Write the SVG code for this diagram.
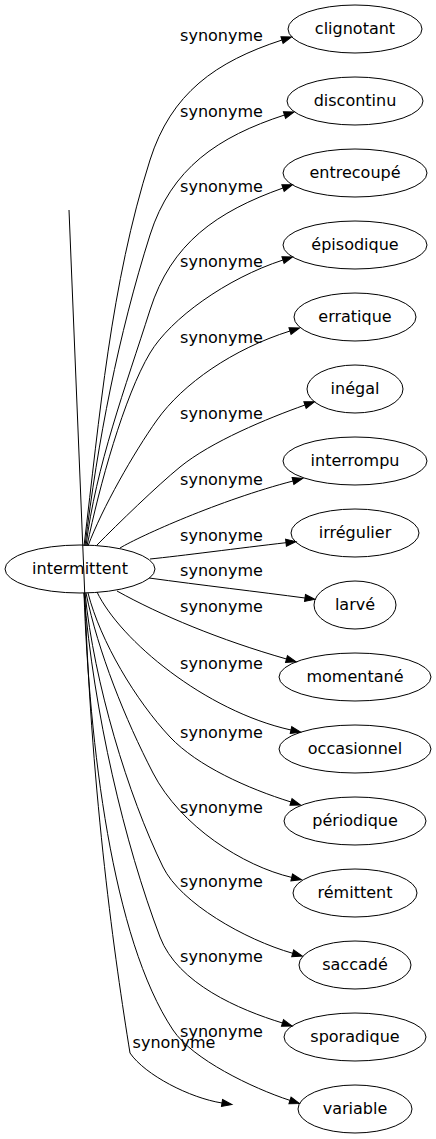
<svg xmlns="http://www.w3.org/2000/svg" width="436" height="1139" viewBox="0 0 436 1139">
<style>
text{font-family:"DejaVu Sans","Verdana",sans-serif;font-size:16px;fill:#000;text-anchor:middle}
ellipse{fill:none;stroke:#000;stroke-width:1}
.e path{fill:none;stroke:#000;stroke-width:1;marker-end:url(#arr)}
</style>
<defs>
<marker id="arr" markerUnits="userSpaceOnUse" markerWidth="11" markerHeight="8" refX="0" refY="3.5" orient="auto" overflow="visible">
<path d="M0,0 L10,3.5 L0,7 z" fill="#000" stroke="#000" stroke-width="1"/>
</marker>
</defs>
<rect width="436" height="1139" fill="#fff"/>
<g id="connectors" class="e">
<path d="M84,546 C99.6,417.3 110.7,283.9 150,160 C171.1,93.3 215.5,61.7 282,40"/>
<path d="M85,546 C97.6,442 118.3,335 150,235 C171.1,168.3 218,136.7 284.5,115"/>
<path d="M86,546 C95.6,466.8 125.8,386.2 150,310 C171.1,243.3 216.5,211.7 283,188"/>
<path d="M87,546 C99,487 124.3,395.9 150,353 C170.6,318.7 226,278.6 283,260"/>
<path d="M88,546 C102,508.4 133.8,452.6 157,420 C183.1,383.4 233,349 290,331"/>
<path d="M97,545 C118,523.7 156.8,486 180,467 C211,441.7 267.3,418.4 305,405"/>
<path d="M120,548 C140,536 220,500 293,481"/>
<path d="M150,559 C180,556 240,548 286,542.7"/>
<path d="M149,578 C200,585 260,592 305,598"/>
<path d="M117,591 C160,615 220,640 286.5,659"/>
<path d="M97,592 C120,640 205,711 291,730"/>
<path d="M88,593 C100.5,641.5 135.8,700.6 170,737 C197.4,766.1 248,788.6 291,802"/>
<path d="M86,593 C98,651.8 125.4,719.7 153,773 C180.6,826.3 243,866 291.7,877.4"/>
<path d="M85,593 C94,682.6 127.9,795.2 163,867 C180.6,902.9 244.6,939.6 292.7,953.3"/>
<path d="M84,593 C93.6,712.6 124.5,843.5 160,937 C177.8,983.8 239.5,1009.8 282.5,1023"/>
<path d="M84,593 C89.2,743 112,938.5 173,1030 C192.4,1059.1 252,1088 290,1100.4"/>
<path d="M69,210 L85,600 C92,800 115,960 130,1053 C145,1075 190,1098 222,1103"/>
<g id="edge-labels">
<text x="221.5" y="41">synonyme</text>
<text x="221.5" y="117">synonyme</text>
<text x="221.5" y="192">synonyme</text>
<text x="221.5" y="267">synonyme</text>
<text x="221.5" y="343">synonyme</text>
<text x="221.5" y="419">synonyme</text>
<text x="221.5" y="485">synonyme</text>
<text x="221.5" y="541">synonyme</text>
<text x="221.5" y="576">synonyme</text>
<text x="221.5" y="612">synonyme</text>
<text x="221.5" y="669">synonyme</text>
<text x="221.5" y="738">synonyme</text>
<text x="221.5" y="813">synonyme</text>
<text x="221.5" y="887">synonyme</text>
<text x="221.5" y="962">synonyme</text>
<text x="221.5" y="1037">synonyme</text>
<text x="174" y="1048">synonyme</text>
</g>
</g>
<g id="n-intermittent"><ellipse cx="80" cy="569" rx="75" ry="24"/><text x="80" y="574">intermittent</text></g>
<g id="n-clignotant"><ellipse cx="355" cy="29" rx="67" ry="24"/><text x="355" y="34">clignotant</text></g>
<g id="n-discontinu"><ellipse cx="355" cy="101" rx="68" ry="24"/><text x="355" y="106">discontinu</text></g>
<g id="n-entrecoupe"><ellipse cx="355" cy="173" rx="72" ry="24"/><text x="355" y="178">entrecoupé</text></g>
<g id="n-episodique"><ellipse cx="355" cy="245" rx="72" ry="24"/><text x="355" y="250">épisodique</text></g>
<g id="n-erratique"><ellipse cx="355" cy="317" rx="61" ry="24"/><text x="355" y="322">erratique</text></g>
<g id="n-inegal"><ellipse cx="355" cy="389" rx="48" ry="24"/><text x="355" y="394">inégal</text></g>
<g id="n-interrompu"><ellipse cx="355" cy="461" rx="72" ry="24"/><text x="355" y="466">interrompu</text></g>
<g id="n-irregulier"><ellipse cx="355" cy="533" rx="64" ry="24"/><text x="355" y="538">irrégulier</text></g>
<g id="n-larve"><ellipse cx="355" cy="605" rx="41" ry="24"/><text x="355" y="610">larvé</text></g>
<g id="n-momentane"><ellipse cx="355" cy="677" rx="76" ry="24"/><text x="355" y="682">momentané</text></g>
<g id="n-occasionnel"><ellipse cx="355" cy="749" rx="76" ry="24"/><text x="355" y="754">occasionnel</text></g>
<g id="n-periodique"><ellipse cx="355" cy="821" rx="71" ry="24"/><text x="355" y="826">périodique</text></g>
<g id="n-remittent"><ellipse cx="355" cy="893" rx="62" ry="24"/><text x="355" y="898">rémittent</text></g>
<g id="n-saccade"><ellipse cx="355" cy="965" rx="56" ry="24"/><text x="355" y="970">saccadé</text></g>
<g id="n-sporadique"><ellipse cx="355" cy="1037" rx="71" ry="24"/><text x="355" y="1042">sporadique</text></g>
<g id="n-variable"><ellipse cx="355" cy="1109" rx="57" ry="24"/><text x="355" y="1114">variable</text></g>
</svg>
